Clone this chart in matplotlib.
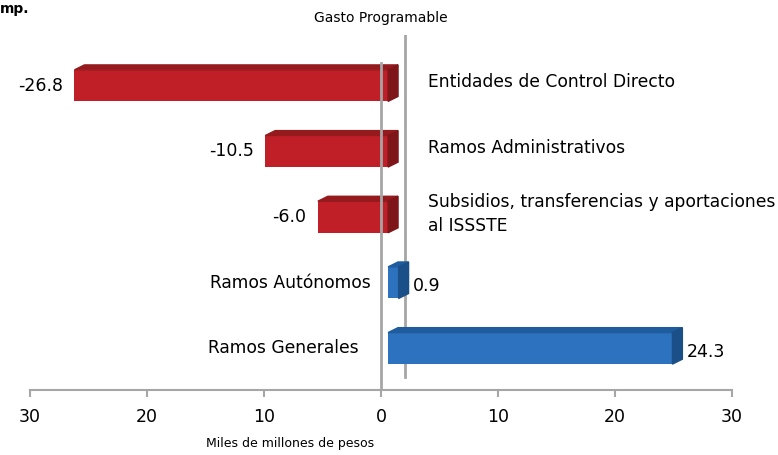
import numpy as np
import matplotlib.pyplot as plt
from matplotlib.patches import Polygon

plt.rcParams['font.family'] = 'DejaVu Sans'

categorias = ['Entidades de Control Directo', 'Ramos Administrativos',
              'Subsidios, transferencias y aportaciones\nal ISSSTE',
              'Ramos Autónomos', 'Ramos Generales']
valores = [-26.8, -10.5, -6.0, 0.9, 24.3]
etiquetas = ['-26.8', '-10.5', '-6.0', '0.9', '24.3']
ticks = [-30, -20, -10, 0, 10, 20, 30]
tick_labels = ['30', '20', '10', '0', '10', '20', '30']

rojo = ('#C01F28', '#951A1E', '#7E1518')
azul = ('#2C72BE', '#1F5C9E', '#1A4F88')

fig = plt.figure(figsize=(7.78, 4.55), dpi=100)
ax = fig.add_axes([0.0386, 0.142, 0.9024, 0.781])

ypos = np.arange(len(valores))[::-1]
h = 0.48
dx, dy = 0.85, 0.075
shift = 0.6   # 3D projection offset of the front faces

# back wall line and front zero line
ax.plot([2.05, 2.05], [-0.43, 4.77], color='#A6A6A6', lw=2, zorder=0)
ax.plot([0, 0], [-0.64, 4.35], color='#A6A6A6', lw=2, zorder=5)

lab_x = {-1: 4.0}
cat_right = [-0.9, -1.9]

for i, (y, v, lab, cat) in enumerate(zip(ypos, valores, etiquetas, categorias)):
    front, top, side = rojo if v < 0 else azul
    ax.barh(y, v, left=shift, height=h, color=front, zorder=3)
    x0, x1 = min(0, v) + shift, max(0, v) + shift
    yt, yb = y + h / 2, y - h / 2
    ax.add_patch(Polygon([[x0, yt], [x1, yt], [x1 + dx, yt + dy], [x0 + dx, yt + dy]],
                         closed=True, color=top, zorder=3))
    ax.add_patch(Polygon([[x1, yb], [x1, yt], [x1 + dx, yt + dy], [x1 + dx, yb + dy]],
                         closed=True, color=side, zorder=3))
    if v < 0:
        ax.text(x0 - 1.0, y, lab, ha='right', va='center', fontsize=12.5)
        ax.text(4.0, y + 0.05, cat, ha='left', va='center', fontsize=12.3, linespacing=1.45)
    else:
        ax.text(x1 + dx + 0.4, y - 0.05, lab, ha='left', va='center', fontsize=12.5)
        ax.text(cat_right[i - 3], y, cat, ha='right', va='center', fontsize=12.3)

ax.set_xlim(-30, 30)
ax.set_ylim(-0.64, 4.77)
ax.set_xticks(ticks)
ax.set_xticklabels(tick_labels, fontsize=12.5)
ax.set_yticks([])
for s in ['top', 'right', 'left']:
    ax.spines[s].set_visible(False)
ax.spines['bottom'].set_color('#A6A6A6')
ax.spines['bottom'].set_linewidth(1.5)
ax.tick_params(axis='x', color='#A6A6A6', width=1.5, length=5, pad=8)

fig.text(0.373, 0.012, 'Miles de millones de pesos', ha='center', va='bottom', fontsize=9)
fig.text(0.49, 0.96, 'Gasto Programable', ha='center', va='center', fontsize=10)
fig.text(0.0, 0.98, 'mp.', ha='left', va='center', fontsize=10, fontweight='bold')

fig.savefig('out.png', dpi=100)
